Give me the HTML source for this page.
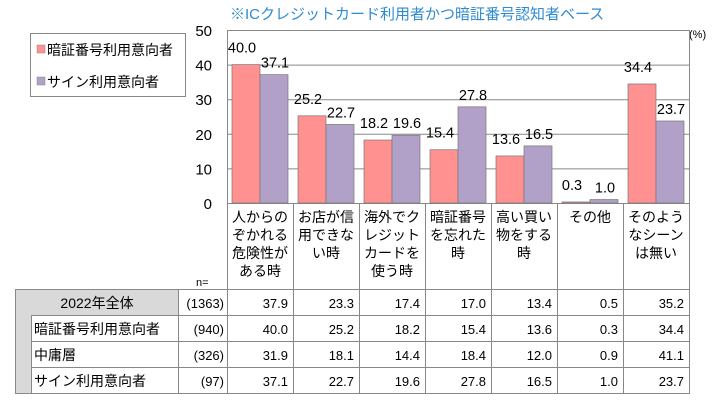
<!DOCTYPE html>
<html><head><meta charset="utf-8"><style>
body{margin:0;background:#fff;width:717px;height:404px;overflow:hidden;font-family:"Liberation Sans","Noto Sans CJK JP",sans-serif;}
svg text{font-family:"Liberation Sans","Noto Sans CJK JP",sans-serif;}
</style></head><body>
<svg id="c" width="717" height="404" xmlns="http://www.w3.org/2000/svg">
<text x="230" y="19" font-size="15" fill="#2e8bd0">※ICクレジットカード利用者かつ暗証番号認知者ベース</text>
<text x="689" y="38" font-size="11" fill="#000">(%)</text>
<g>
<rect x="30.5" y="33.5" width="155" height="63" fill="#fff" stroke="#888"/>
<rect x="37" y="45" width="8" height="8" fill="#ff9191" stroke="#888" stroke-width="0.5"/>
<text x="47" y="55" font-size="14">暗証番号利用意向者</text>
<rect x="37" y="77" width="8" height="8" fill="#b1a0c7" stroke="#888" stroke-width="0.5"/>
<text x="47" y="87" font-size="14">サイン利用意向者</text>
</g>
<g id="plot"></g>
<g id="tbl"></g>
</svg>
<script>
const categories=[["人からの","ぞかれる","危険性が","ある時"],["お店が信","用できな","い時"],["海外でク","レジット","カードを","使う時"],["暗証番号","を忘れた","時"],["高い買い","物をする","時"],["その他"],["そのよう","なシーン","は無い"]];
const pinValues=[40.0,25.2,18.2,15.4,13.6,0.3,34.4];
const signValues=[37.1,22.7,19.6,27.8,16.5,1.0,23.7];
const yTicks=[0,10,20,30,40,50];
const rowLabels=["2022年全体","暗証番号利用意向者","中庸層","サイン利用意向者"];
const rowN=["(1363)","(940)","(326)","(97)"];
const tableValues=[[37.9,23.3,17.4,17.0,13.4,0.5,35.2],[40.0,25.2,18.2,15.4,13.6,0.3,34.4],[31.9,18.1,14.4,18.4,12.0,0.9,41.1],[37.1,22.7,19.6,27.8,16.5,1.0,23.7]];

const NS="http://www.w3.org/2000/svg";
const X0=227,CW=66,Y0=203,Y1=30;
const y=v=>Y0-(v/50)*(Y0-Y1);
const x=i=>X0+i*CW;
function mk(p,t,a){const e=document.createElementNS(NS,t);for(const k in a)e.setAttribute(k,a[k]);p.appendChild(e);return e;}
const plot=document.getElementById('plot');
yTicks.forEach(t=>{
  const l=mk(plot,'line',{x1:X0,x2:X0+7*CW,y1:y(t)+.5,y2:y(t)+.5,stroke:'#888'});
  
  
  const tx=mk(plot,'text',{x:212,y:y(t)+6,'font-size':15,'text-anchor':'end'});tx.textContent=t;
  
  
});
const fr=mk(plot,'rect',{x:X0+.5,y:Y1+.5,width:7*CW,height:Y0-Y1,fill:'none',stroke:'#888'});


categories.forEach((c,i)=>{
  [[pinValues,'#ff9191',5,'bar-pin',-4],[signValues,'#b1a0c7',33,'bar-sign',1]].forEach(([arr,col,off,nm,dx])=>{
    const v=arr[i];
    const b=mk(plot,'rect',{x:x(i)+off,y:y(v),width:28,height:Y0-y(v),fill:col,stroke:'#777','stroke-width':0.7});
    
    
    const t=mk(plot,'text',{x:x(i)+off+14+dx,y:y(v)-(nm==='bar-pin'?12:7),'font-size':14.5,'text-anchor':'middle'});
    t.textContent=v.toFixed(1);
    
    
  });
});
const tb=document.getElementById('tbl');
const R0=289,RH=26,TB=393;
for(let i=0;i<=7;i++){const l=mk(tb,'line',{x1:x(i)+.5,x2:x(i)+.5,y1:Y0,y2:TB,stroke:'#888'});
  
  }
categories.forEach((c,i)=>{c.forEach((s,j)=>{
  const t=mk(tb,'text',{x:x(i)+CW/2,y:222+j*18,'font-size':14,'text-anchor':'middle'});t.textContent=s;
  
  
});});
const nl=mk(tb,'text',{x:196,y:286,'font-size':11});nl.textContent='n=';


const g1=mk(tb,'rect',{x:15.5,y:R0+.5,width:163,height:RH,fill:'#d9d9d9',stroke:'none'});


const g2=mk(tb,'rect',{x:15.5,y:R0+RH,width:16,height:TB-R0-RH,fill:'#d9d9d9'});


mk(tb,'rect',{x:15.5,y:R0+.5,width:X0+7*CW-15,height:TB-R0,fill:'none',stroke:'#888'});
mk(tb,'line',{x1:178.5,x2:178.5,y1:R0,y2:TB,stroke:'#888'});
mk(tb,'line',{x1:31.5,x2:31.5,y1:R0+RH,y2:TB,stroke:'#888'});
rowLabels.forEach((lab,r)=>{
  const ty=R0+r*RH;
  if(r>0){mk(tb,'line',{x1:31.5,x2:X0+7*CW,y1:ty+.5,y2:ty+.5,stroke:'#888'});}
  const t=mk(tb,'text',{x:r===0?97:34,y:ty+19,'font-size':14,'text-anchor':r===0?'middle':'start'});t.textContent=lab;
  
  
  const n=mk(tb,'text',{x:224,y:ty+19,'font-size':13,'text-anchor':'end'});n.textContent=rowN[r];
  
  
  tableValues[r].forEach((v,i)=>{
    const c=mk(tb,'text',{x:x(i)+CW-5,y:ty+19,'font-size':13,'text-anchor':'end'});c.textContent=v.toFixed(1);
    
    
  });
});
</script>
</body></html>
